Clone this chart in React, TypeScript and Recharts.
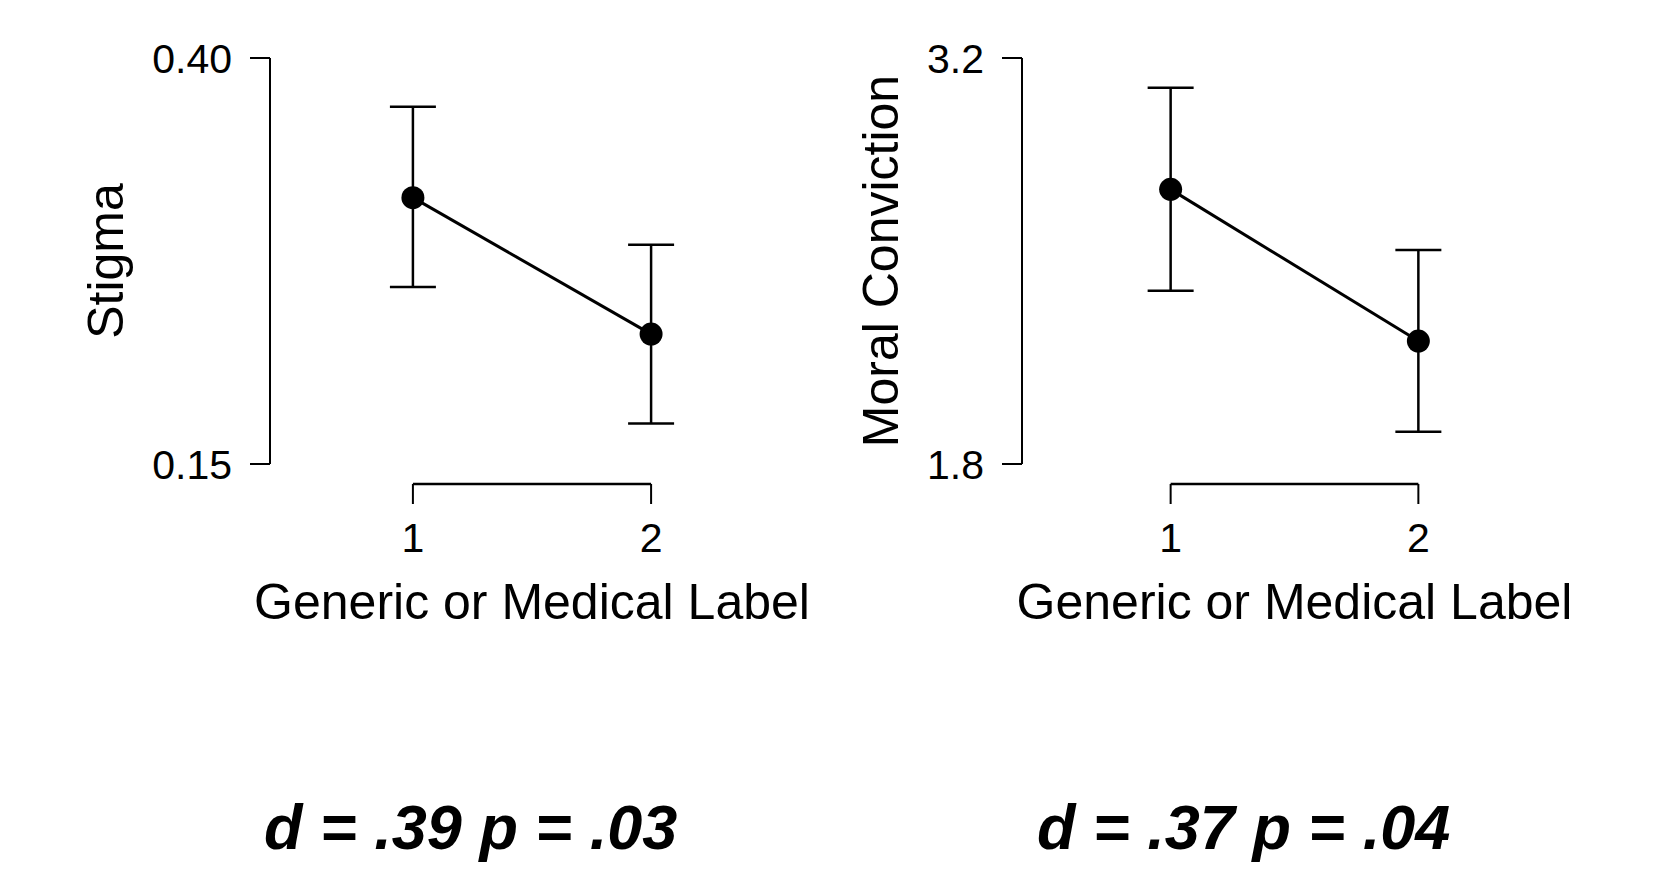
import React from "react";
import { LineChart, Line, XAxis, YAxis, ErrorBar, ReferenceLine } from "recharts";

// group codes on the x axis (1 = generic label, 2 = medical label)
const labelCodes = [1, 2];
const xTicks = [1, 2];

// stigma: means with 95% CI bounds
const stigmaMean = [0.314, 0.23];
const stigmaLower = [0.259, 0.175];
const stigmaUpper = [0.37, 0.285];
const stigmaTicks = [0.15, 0.4];

// moral conviction: means with 95% CI bounds
const moralMean = [2.747, 2.224];
const moralLower = [2.397, 1.911];
const moralUpper = [3.097, 2.538];
const moralTicks = [1.8, 3.2];

const effectNotes = [
  { d: ".39", p: ".03" },
  { d: ".37", p: ".04" },
];

const FONT = "'Liberation Sans', Arial, sans-serif";
const PLOT_TOP = 58;
const PLOT_H = 406;
const AXIS_W = 270;
const AXIS_GAP = 20; // px between plot bottom and the x axis line

const XTick = (props: any) => {
  const { x, y, payload } = props;
  return (
    <g>
      <line x1={x} y1={y + AXIS_GAP} x2={x} y2={y + AXIS_GAP + 20} stroke="#000" strokeWidth={2} />
      <text x={x} y={y + 88} textAnchor="middle" fontSize={41} fill="#000" fontFamily={FONT}>
        {payload.value}
      </text>
    </g>
  );
};

interface PanelProps {
  mean: number[];
  lower: number[];
  upper: number[];
  yTicks: number[];
  digits: number;
  yTitle: string;
  titleX: number;
  left: number;
  plotW: number;
}

function Panel({ mean, lower, upper, yTicks, digits, yTitle, titleX, left, plotW }: PanelProps) {
  const data = labelCodes.map((x, i) => ({
    x,
    mean: mean[i],
    err: [mean[i] - lower[i], upper[i] - mean[i]],
  }));
  const yMin = yTicks[0];
  const yMax = yTicks[yTicks.length - 1];
  const axisY = yMin - ((yMax - yMin) * AXIS_GAP) / PLOT_H;
  const padRight = 60;

  return (
    <div style={{ position: "absolute", left, top: 0 }}>
      <LineChart
        width={AXIS_W + plotW + padRight}
        height={640}
        data={data}
        margin={{ top: PLOT_TOP, right: padRight, bottom: 0, left: 0 }}
        style={{ fontFamily: FONT }}
      >
        <XAxis
          type="number"
          dataKey="x"
          domain={[0.4, 2.6]}
          ticks={xTicks}
          allowDataOverflow
          axisLine={false}
          tickLine={false}
          tickSize={0}
          tickMargin={0}
          height={640 - PLOT_TOP - PLOT_H}
          tick={<XTick />}
          label={(p: any) => {
            const vb = p.viewBox;
            return (
              <text
                x={vb.x + vb.width / 2}
                y={vb.y + 155}
                textAnchor="middle"
                fontSize={50}
                fill="#000"
                fontFamily={FONT}
              >
                Generic or Medical Label
              </text>
            );
          }}
        />
        <YAxis
          type="number"
          domain={[yMin, yMax]}
          ticks={yTicks}
          width={AXIS_W}
          allowDataOverflow
          axisLine={{ stroke: "#000", strokeWidth: 2 }}
          tickLine={{ stroke: "#000", strokeWidth: 2 }}
          tickSize={20}
          tickMargin={18}
          tickFormatter={(v: number) => v.toFixed(digits)}
          tick={{ fontSize: 41, fill: "#000", fontFamily: FONT }}
          label={(p: any) => {
            const vb = p.viewBox;
            const cy = vb.y + vb.height / 2;
            return (
              <text
                x={titleX}
                y={cy}
                transform={`rotate(-90, ${titleX}, ${cy})`}
                textAnchor="middle"
                dominantBaseline="central"
                fontSize={50}
                fill="#000"
                fontFamily={FONT}
              >
                {yTitle}
              </text>
            );
          }}
        />
        <ReferenceLine
          segment={[
            { x: xTicks[0], y: axisY },
            { x: xTicks[xTicks.length - 1], y: axisY },
          ]}
          stroke="#000"
          strokeWidth={2.5}
          ifOverflow="visible"
        />
        <Line
          type="linear"
          dataKey="mean"
          stroke="#000"
          strokeWidth={3}
          dot={{ r: 11.5, fill: "#000", stroke: "#000", strokeWidth: 0 }}
          activeDot={false}
          isAnimationActive={false}
        >
          <ErrorBar dataKey="err" direction="y" width={23} stroke="#000" strokeWidth={2.5} />
        </Line>
      </LineChart>
    </div>
  );
}

export default function App() {
  return (
    <div
      style={{
        position: "absolute",
        left: 0,
        top: 0,
        width: 1660,
        height: 880,
        background: "#fff",
        overflow: "hidden",
      }}
    >
      <Panel
        mean={stigmaMean}
        lower={stigmaLower}
        upper={stigmaUpper}
        yTicks={stigmaTicks}
        digits={2}
        yTitle="Stigma"
        titleX={106}
        left={0}
        plotW={524}
      />
      <Panel
        mean={moralMean}
        lower={moralLower}
        upper={moralUpper}
        yTicks={moralTicks}
        digits={1}
        yTitle="Moral Conviction"
        titleX={129}
        left={752}
        plotW={545}
      />
      {effectNotes.map((n, i) => (
        <div
          key={i}
          style={{
            position: "absolute",
            left: i === 0 ? 264 : 1037,
            top: 796,
            width: 400,
            textAlign: "center",
            fontFamily: FONT,
            fontSize: 63,
            lineHeight: "63px",
            fontWeight: "bold",
            fontStyle: "italic",
            whiteSpace: "nowrap",
          }}
        >
          d = {n.d} p = {n.p}
        </div>
      ))}
    </div>
  );
}
